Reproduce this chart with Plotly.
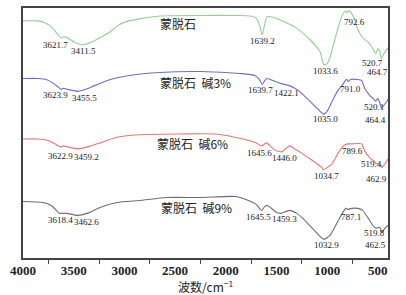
import plotly.graph_objects as go

# ---- data (wavenumber cm^-1, relative transmittance, stacked) ----
wn_green = [4000, 3850, 3780, 3720, 3670, 3625, 3595, 3560, 3500, 3420, 3340, 3240, 3140, 3070, 2990, 2850, 2650, 2250, 1900, 1760, 1700, 1665, 1640, 1615, 1595, 1540, 1465, 1320, 1170, 1070, 1034, 1000, 970, 925, 875, 845, 815, 805, 793, 770, 727, 700, 650, 600, 560, 521, 500, 480, 465, 440, 400]
t_green = [239, 239, 237, 233, 227, 222, 223, 222, 218, 215, 217, 222, 228, 234, 238, 241, 244, 244.5, 244.5, 244, 242, 234, 225, 236, 243, 243, 240, 233, 220, 208, 195, 196, 203, 220, 238, 246, 249, 247, 249, 248, 240, 231, 222, 218, 213, 206, 211, 208, 201, 206, 212]

wn_blue = [4000, 3850, 3770, 3700, 3650, 3624, 3600, 3560, 3456, 3380, 3290, 3140, 2950, 2650, 2250, 1860, 1712, 1670, 1640, 1615, 1595, 1515, 1460, 1422, 1380, 1300, 1240, 1100, 1035, 1000, 950, 900, 845, 820, 805, 795, 770, 700, 660, 630, 580, 540, 520, 500, 480, 464, 440, 410, 400]
t_blue = [181, 181, 180, 176, 172, 170, 171, 170, 168, 170, 174, 180, 184, 187, 188, 186, 184, 180, 175, 179, 181, 178, 176, 175, 174, 170, 165, 151, 145, 148, 158, 168, 175, 179, 180, 178, 180, 180, 179, 171, 164, 160, 158, 161, 156, 151, 154, 158, 160]

wn_red = [4000, 3850, 3770, 3700, 3650, 3623, 3600, 3560, 3459, 3360, 3240, 3100, 2900, 2450, 2100, 1830, 1700, 1646, 1600, 1520, 1446, 1400, 1367, 1320, 1270, 1170, 1050, 1035, 990, 950, 890, 840, 800, 760, 660, 630, 580, 530, 519, 490, 470, 463, 430, 410, 400]
t_red = [120, 120, 119, 116, 113, 112, 113, 112, 110, 112, 116, 121, 124, 125, 125, 120, 116, 113, 116, 109, 107, 111, 113, 110, 107, 100, 91, 89, 92, 95, 106, 113, 115, 115, 115, 108, 101, 97, 95, 95, 93, 91, 95, 98, 100]

wn_black = [4000, 3800, 3720, 3640, 3618, 3566, 3463, 3340, 3240, 3070, 2850, 2580, 2250, 1900, 1800, 1700, 1660, 1645, 1615, 1590, 1500, 1459, 1370, 1300, 1240, 1110, 1033, 970, 900, 845, 815, 790, 760, 700, 650, 600, 550, 520, 480, 462, 430, 400]
t_black = [57, 56, 53, 45, 45, 45, 43, 46, 51, 56, 58, 61, 61, 62, 59, 54, 49, 48, 52, 53, 46, 45, 48, 45, 40, 26, 19, 23, 36, 46, 50, 49, 50, 50, 48, 41, 33, 30, 31, 26, 30, 33]

series_names = ["蒙脱石", "蒙脱石  碱3%", "蒙脱石  碱6%", "蒙脱石  碱9%"]
series_colors = ["#8ed38e", "#6a70c4", "#ee7474", "#6e6e6e"]

# peak labels: text, and where each label sits (x in cm^-1, y in plot units)
peak_text = [
    ["3621.7", "3411.5", "1639.2", "1033.6", "792.6", "520.7", "464.7"],
    ["3623.9", "3455.5", "1639.7", "1422.1", "1035.0", "791.0", "520.1", "464.4"],
    ["3622.9", "3459.2", "1645.6", "1446.0", "1034.7", "789.6", "519.4", "462.9"],
    ["3618.4", "3462.6", "1645.5", "1459.3", "1032.9", "787.1", "519.8", "462.5"],
]
peak_x = [
    [3684, 3408, 1633, 1012, 726, 548, 499],
    [3684, 3389, 1653, 1406, 1012, 765, 538, 519],
    [3635, 3369, 1663, 1416, 1002, 746, 558, 509],
    [3635, 3369, 1682, 1416, 1002, 765, 529, 519],
]
peak_y = [
    [215, 209, 219, 189, 238, 197, 187],
    [164, 161, 169, 166, 140, 170, 152, 139],
    [103, 102, 106, 101, 83, 108, 95, 80],
    [38, 36, 41, 39, 13, 41, 25, 13],
]
name_x = [2471, 2294, 2333, 2284]
name_y = [236, 177, 115, 51]

x_ticks = [4000, 3500, 3000, 2500, 2000, 1500, 1000, 500]

fig = go.Figure()
for wn, t, c in zip([wn_green, wn_blue, wn_red, wn_black],
                    [t_green, t_blue, t_red, t_black], series_colors):
    fig.add_trace(go.Scatter(x=wn, y=t, mode="lines", line=dict(color=c, width=1.1,
                                                                 shape="spline", smoothing=0.6),
                             showlegend=False, hoverinfo="skip"))

num_font = dict(family="Liberation Serif", size=9, color="#222")
for i in range(4):
    for txt, xx, yy in zip(peak_text[i], peak_x[i], peak_y[i]):
        fig.add_annotation(x=xx, y=yy, text=txt, showarrow=False, font=num_font,
                           xanchor="center", yanchor="middle")
    fig.add_annotation(x=name_x[i], y=name_y[i], text=series_names[i], showarrow=False,
                       font=dict(family="Noto Sans CJK SC", size=12, color="#222"),
                       xanchor="center", yanchor="middle")

fig.update_layout(
    width=406, height=295,
    margin=dict(l=23, r=18, t=6, b=37),
    paper_bgcolor="white", plot_bgcolor="white",
    xaxis=dict(range=[4000, 400], tickvals=x_ticks, ticktext=[str(v) for v in x_ticks],
               ticks="outside", ticklen=0, showgrid=False, zeroline=False,
               showline=True, mirror=True, linecolor="#444", linewidth=1.5,
               tickfont=dict(family="Liberation Serif", size=13,
                             color="#222", weight="bold"),
               minor=dict(tickvals=[3750, 3250, 2750, 2250, 1750, 1250, 750],
                          ticks="outside", ticklen=4, tickcolor="#444"),
               title=dict(text="波数/cm<sup>−1</sup>", standoff=2,
                          font=dict(family="Noto Sans CJK SC", size=12, color="#222"))),
    yaxis=dict(range=[0, 252], showticklabels=False, ticks="", showgrid=False,
               zeroline=False, showline=True, mirror=True, linecolor="#444", linewidth=1.5),
)

fig.write_html("out.html")
